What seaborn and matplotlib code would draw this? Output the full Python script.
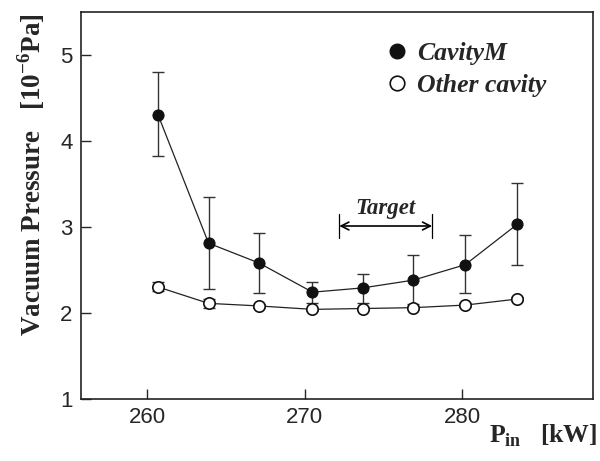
import seaborn as sns
import pandas as pd
from matplotlib import pyplot as plt

# input power [kW]
p_in = [260.7, 263.9, 267.1, 270.5, 273.7, 276.9, 280.2, 283.5]

# CavityM: mean and error bar ends
cav_m = [4.30, 2.81, 2.58, 2.24, 2.29, 2.38, 2.56, 3.03]
cav_m_hi = [4.80, 3.35, 2.93, 2.36, 2.45, 2.67, 2.90, 3.51]
cav_m_lo = [3.82, 2.28, 2.23, 2.12, 2.12, 2.10, 2.23, 2.56]

# other cavity
other = [2.30, 2.11, 2.08, 2.04, 2.05, 2.06, 2.09, 2.16]
other_hi = [2.36, 2.16, 2.10, 2.06, 2.07, 2.08, 2.11, 2.18]
other_lo = [2.25, 2.06, 2.06, 2.02, 2.03, 2.04, 2.07, 2.14]

target_lo, target_hi, target_y = 272.2, 278.1, 3.01

sns.set_style("ticks")
plt.rcParams['font.family'] = ['Liberation Sans', 'DejaVu Sans']
plt.rcParams['mathtext.fontset'] = 'custom'
plt.rcParams['mathtext.rm'] = 'Liberation Serif:bold'
plt.rcParams['mathtext.bf'] = 'Liberation Serif:bold'

df = pd.DataFrame({'P': p_in, 'M': cav_m, 'O': other})

fig, ax = plt.subplots(figsize=(6, 4.61), dpi=100)
fig.subplots_adjust(left=0.135, right=0.988, top=0.974, bottom=0.135)

ax.errorbar(p_in, cav_m,
            yerr=[[m - l for m, l in zip(cav_m, cav_m_lo)], [h - m for m, h in zip(cav_m, cav_m_hi)]],
            fmt='none', ecolor='#333333', elinewidth=1.0, capsize=4, capthick=1.0, zorder=1)
ax.errorbar(p_in, other,
            yerr=[[m - l for m, l in zip(other, other_lo)], [h - m for m, h in zip(other, other_hi)]],
            fmt='none', ecolor='#333333', elinewidth=1.0, capsize=4, capthick=1.0, zorder=1)

sns.lineplot(data=df, x='P', y='M', ax=ax, color='#222222', lw=0.9, marker='o',
             markersize=8, markerfacecolor='#111111', markeredgecolor='#111111', zorder=3)
sns.lineplot(data=df, x='P', y='O', ax=ax, color='#222222', lw=0.9, marker='o',
             markersize=8.2, markerfacecolor='white', markeredgecolor='#111111',
             markeredgewidth=1.2, zorder=3)

# target range arrow
ax.annotate('', xy=(target_lo, target_y), xytext=(target_hi, target_y),
            arrowprops=dict(arrowstyle='<->', color='black', lw=1.2, mutation_scale=14, shrinkA=0, shrinkB=0))
for xv in (target_lo, target_hi):
    ax.plot([xv, xv], [target_y - 0.14, target_y + 0.14], color='black', lw=0.9)
ax.text((target_lo + target_hi) / 2, target_y + 0.08, 'Target', ha='center', va='bottom',
        fontsize=16.5, fontweight='bold', fontstyle='italic', family='Liberation Serif')

# legend
ax.plot([], [], 'o', color='#111111', markersize=10.5, label='CavityM')
ax.plot([], [], 'o', markerfacecolor='white', markeredgecolor='#111111', markeredgewidth=1.2,
        markersize=10.5, label='Other cavity')
handles, labels = ax.get_legend_handles_labels()
leg = ax.legend(handles[-2:], labels[-2:], loc='upper left', bbox_to_anchor=(0.548, 0.982), frameon=False,
                handletextpad=0.25, handlelength=1.0, labelspacing=0.35,
                prop={'family': 'Liberation Serif', 'weight': 'bold', 'style': 'italic', 'size': 18.5})

ax.set_xlim(255.8, 288.3)
ax.set_ylim(1, 5.5)
ax.set_xticks([260, 270, 280])
ax.set_yticks([1, 2, 3, 4, 5])
ax.tick_params(direction='in', length=7, width=1, labelsize=16, top=False, right=False, pad=6)
for s in ax.spines.values():
    s.set_linewidth(1.2)
    s.set_color('#222222')

ax.set_xlabel('')
ax.set_ylabel(r'Vacuum Pressure   [10$^{-6}$Pa]', family='Liberation Serif', fontweight='bold',
              fontsize=19.5)
ax.yaxis.set_label_coords(-0.066, 0.58)
fig.text(0.995, 0.025, r'P$_{\mathrm{in}}$   [kW]', ha='right', va='bottom', family='Liberation Serif',
         fontweight='bold', fontsize=18.5)

fig.savefig('out.png', dpi=100)
